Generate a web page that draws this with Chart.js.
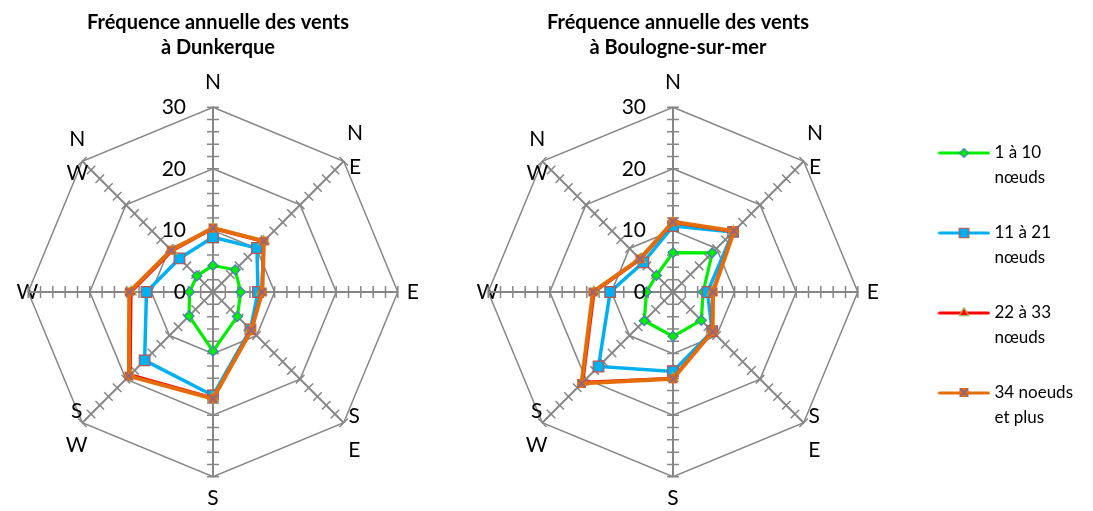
<!DOCTYPE html>
<html>
<head>
<meta charset="utf-8">
<script src="https://cdn.jsdelivr.net/npm/chart.js@4.4.0/dist/chart.umd.min.js"></script>
<style>
  html, body { margin: 0; padding: 0; background: #fff; overflow: hidden; width: 1093px; height: 511px; }
  canvas { position: absolute; top: 0; }
  #dunkerque { left: -15px; }
  #boulogne { left: 444px; }
</style>
</head>
<body>
<canvas id="dunkerque" width="466" height="514"></canvas>
<canvas id="boulogne" width="639" height="514"></canvas>
<script>
// data
const directions = ['N', ['N', 'E'], 'E', ['S', 'E'], 'S', ['S', 'W'], 'W', ['N', 'W']];
const seriesNames = [['1 à 10', 'nœuds'], ['11 à 21', 'nœuds'], ['22 à 33', 'nœuds'], ['34 noeuds', 'et plus']];
const tickLabels = [0, 10, 20, 30];
const minorTicks = [2, 4, 6, 8, 10, 12, 14, 16, 18, 20, 22, 24, 26, 28, 30];

const dunkerque1to10 = [4.3, 5.1, 4.5, 5.6, 9.6, 5.5, 3.8, 3.7];
const dunkerque11to21 = [8.9, 10.1, 7.3, 8.6, 16.8, 15.7, 10.8, 7.7];
const dunkerque22to33 = [10.3, 11.6, 7.9, 8.7, 17.2, 19.0, 13.3, 9.4];
const dunkerque34plus = [10.4, 11.7, 8.0, 8.8, 17.3, 19.3, 13.6, 9.6];

const boulogne1to10 = [6.4, 9.0, 4.9, 6.5, 7.2, 6.6, 4.3, 3.8];
const boulogne11to21 = [10.7, 13.8, 5.6, 9.0, 12.9, 17.1, 10.2, 6.8];
const boulogne22to33 = [11.3, 13.9, 6.4, 9.0, 14.0, 20.7, 12.8, 7.5];
const boulogne34plus = [11.4, 14.0, 6.5, 9.1, 14.1, 21.0, 13.0, 7.6];

// styles
const lineColors = ['#00EE00', '#00B0F0', '#FF0000', '#E46C0A'];
const lineWidths = [3.2, 3.5, 3, 4];
const markerFill = ['#00EE00', '#00B0F0', '#FF0000', '#E46C0A'];
const markerBorder = ['#4A7EBB', '#C0504D', '#9BBB59', '#8064A2'];
const markerStyles = ['rectRot', 'rect', 'triangle', 'x'];
const markerRadius = [5, 7.5, 6, 6];
const labelPadding = [12, 0, 9, 0, 9, 0, -10, 0];
// distance past the outer ring for the two-line diagonal labels
const diagOffset = [0, 16, 0, 15, 0, 8, 0, 7];
const grey = '#868686';

function xMarker() {
  const c = document.createElement('canvas');
  c.width = 11; c.height = 11;
  const g = c.getContext('2d');
  g.fillStyle = '#E46C0A';
  g.fillRect(1, 1, 9, 9);
  g.strokeStyle = '#8064A2';
  g.lineWidth = 1.6;
  g.beginPath();
  g.moveTo(1.5, 1.5); g.lineTo(9.5, 9.5);
  g.moveTo(9.5, 1.5); g.lineTo(1.5, 9.5);
  g.stroke();
  return c;
}
const xImg = xMarker();

function legendSample(i) {
  const c = document.createElement('canvas');
  c.width = 53; c.height = 14;
  const g = c.getContext('2d');
  g.strokeStyle = lineColors[i];
  g.lineWidth = 3;
  g.lineCap = 'round';
  g.beginPath(); g.moveTo(2, 7); g.lineTo(51, 7); g.stroke();
  if (markerStyles[i] === 'x') {
    g.drawImage(xImg, 21, 1);
  } else {
    g.fillStyle = markerFill[i];
    g.strokeStyle = markerBorder[i];
    g.lineWidth = 1.2;
    Chart.helpers.drawPoint(g, { pointStyle: markerStyles[i], radius: markerRadius[i] * 0.9, borderWidth: 1.2 }, 26.5, 7);
  }
  return c;
}

const axisDecor = {
  id: 'axisDecor',
  beforeDatasetsDraw(chart) {
    const r = chart.scales.r, ctx = chart.ctx;
    ctx.save();
    ctx.strokeStyle = grey;
    ctx.lineWidth = 1.5;
    ctx.beginPath();
    for (let i = 0; i < directions.length; i++) {
      minorTicks.forEach((v) => {
        const p = r.getPointPositionForValue(i, v);
        const nx = -Math.sin(p.angle) * 6, ny = Math.cos(p.angle) * 6;
        ctx.moveTo(p.x + nx, p.y + ny);
        ctx.lineTo(p.x - nx, p.y - ny);
      });
    }
    ctx.stroke();
    ctx.restore();
  },
  afterDatasetsDraw(chart) {
    const r = chart.scales.r, ctx = chart.ctx;
    ctx.save();
    ctx.font = '21px Lato';
    ctx.fillStyle = '#000';
    ctx.textAlign = 'right';
    ctx.textBaseline = 'middle';
    tickLabels.forEach((v) => {
      const p = r.getPointPositionForValue(0, v);
      ctx.fillText(String(v), p.x - 27, p.y);
    });
    // diagonal compass labels, wrapped on two lines like the original
    ctx.textAlign = 'center';
    directions.forEach((d, i) => {
      if (!Array.isArray(d)) return;
      const p = r.getPointPosition(i, r.drawingArea + diagOffset[i]);
      ctx.fillText(d[0], p.x, p.y - 17);
      ctx.fillText(d[1], p.x, p.y + 17);
    });
    ctx.restore();
  }
};

const buildDatasets = (values) =>
  values.map((data, i) => ({
    label: seriesNames[i].join(' '),
    data: data,
    borderColor: lineColors[i],
    borderWidth: lineWidths[i],
    backgroundColor: markerFill[i],
    pointBackgroundColor: markerFill[i],
    pointBorderColor: markerBorder[i],
    pointBorderWidth: 1.2,
    pointRadius: markerRadius[i],
    pointStyle: markerStyles[i] === 'x' ? xImg : markerStyles[i],
    fill: false,
    order: 3 - i,
  }));

const scaleOptions = {
  min: 0,
  max: 30,
  ticks: { stepSize: 10, display: false },
  grid: { circular: false, color: grey, lineWidth: 1.5 },
  angleLines: { color: grey, lineWidth: 2 },
  pointLabels: {
    color: '#000',
    padding: (c) => labelPadding[c.index],
    font: { family: 'Lato', size: 21 },
    // the diagonal ones are drawn by axisDecor
    callback: (label) => (Array.isArray(label) ? '' : label),
  },
};

const titleOptions = (city) => ({
  display: true,
  text: ['Fréquence annuelle des vents', city],
  color: '#000',
  fullSize: false,
  font: { family: 'Lato', size: 20, weight: 'bold', lineHeight: '25px' },
  padding: { top: 10, bottom: 9 },
});

new Chart(document.getElementById('dunkerque'), {
  type: 'radar',
  data: {
    labels: directions,
    datasets: buildDatasets([dunkerque1to10, dunkerque11to21, dunkerque22to33, dunkerque34plus]),
  },
  options: {
    responsive: false,
    animation: false,
    events: [],
    scales: { r: scaleOptions },
    plugins: {
      legend: { display: false },
      tooltip: { enabled: false },
      title: titleOptions('à Dunkerque'),
    },
  },
  plugins: [axisDecor],
});

const legendImgs = seriesNames.map((n, i) => legendSample(i));

new Chart(document.getElementById('boulogne'), {
  type: 'radar',
  data: {
    labels: directions,
    datasets: buildDatasets([boulogne1to10, boulogne11to21, boulogne22to33, boulogne34plus]),
  },
  options: {
    responsive: false,
    animation: false,
    events: [],
    scales: { r: scaleOptions },
    plugins: {
      tooltip: { enabled: false },
      title: titleOptions('à Boulogne-sur-mer'),
      legend: {
        position: 'right',
        title: { display: true, text: ' ', padding: 0, font: { size: 10, lineHeight: '65px' } },
        labels: {
          usePointStyle: true,
          pointStyleWidth: 44,
          padding: 30,
          color: '#000',
          font: { family: 'Lato', size: 17, lineHeight: '25px' },
          generateLabels: () =>
            seriesNames.map((t, i) => ({
              text: t,
              pointStyle: legendImgs[i],
              fillStyle: 'transparent',
              strokeStyle: 'transparent',
              lineWidth: 0,
              fontColor: '#000',
              hidden: false,
              datasetIndex: i,
            })),
        },
      },
    },
  },
  plugins: [axisDecor],
});
</script>
</body>
</html>
